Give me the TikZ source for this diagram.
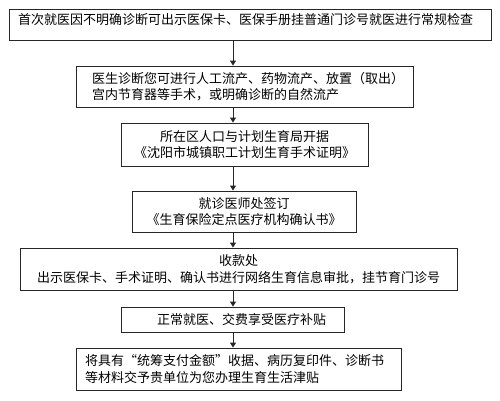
\documentclass[tikz,border=0pt]{standalone}
\usepackage{fontspec}
\setmainfont{Noto Sans CJK SC}
\usetikzlibrary{arrows.meta}
\begin{document}
\begin{tikzpicture}[x=1pt,y=-1pt,
  box/.style={draw=black!85, line width=0.9pt, inner ysep=0pt, inner xsep=0pt,
    font=\fontsize{13}{16.5}\selectfont},
  arr/.style={draw=black!85, line width=0.9pt, -{Triangle[length=5pt,width=6pt]}}]
\useasboundingbox[fill=white] (0,0) rectangle (500,400);
\coordinate (ax) at (233,0);
\node[box, minimum width=482pt, minimum height=31pt, inner xsep=9pt, text width=464pt,
  align=left, text height=0pt, text depth=0pt] (b1) at (250,24.5)
  {首次就医因不明确诊断可出示医保卡、医保手册挂普通门诊号就医进行常规检查};
\node[box, minimum width=337pt, minimum height=41pt, inner xsep=16pt, text width=305pt,
  align=left] (b2) at (244.5,86.5)
  {医生诊断您可进行人工流产、药物流产、放置（取出）\\宫内节育器等手术，或明确诊断的自然流产};
\node[box, minimum width=247pt, minimum height=43pt, align=center] (b3) at (244.5,144.5)
  {所在区人口与计划生育局开据\\《沈阳市城镇职工计划生育手术证明》};
\node[box, minimum width=224pt, minimum height=41pt, align=center] (b4) at (244,211.5)
  {就诊医师处签订\\《生育保险定点医疗机构确认书》};
\node[box, minimum width=437pt, minimum height=42pt, align=center] (b5) at (238.5,269)
  {收款处\\出示医保卡、手术证明、确认书进行网络生育信息审批，挂节育门诊号};
\node[box, minimum width=223pt, minimum height=25pt, inner xsep=18pt, text width=187pt,
  align=left] (b6) at (232.5,319.5)
  {\hspace*{18pt}正常就医、交费享受医疗补贴};
\node[box, minimum width=325pt, minimum height=42pt, inner xsep=9pt, text width=307pt,
  align=left] (b7) at (238.5,369)
  {将具有“统筹支付金额”收据、病历复印件、诊断书\\等材料交予贵单位为您办理生育生活津贴};
\draw[arr] (b1.south -| ax) -- (b2.north -| ax);
\draw[arr] (b2.south -| ax) -- (b3.north -| ax);
\draw[arr] (b3.south -| ax) -- (b4.north -| ax);
\draw[arr] (b4.south -| ax) -- (b5.north -| ax);
\draw[arr] (b5.south -| ax) -- (b6.north -| ax);
\draw[arr] (b6.south -| ax) -- (b7.north -| ax);
\end{tikzpicture}
\end{document}
